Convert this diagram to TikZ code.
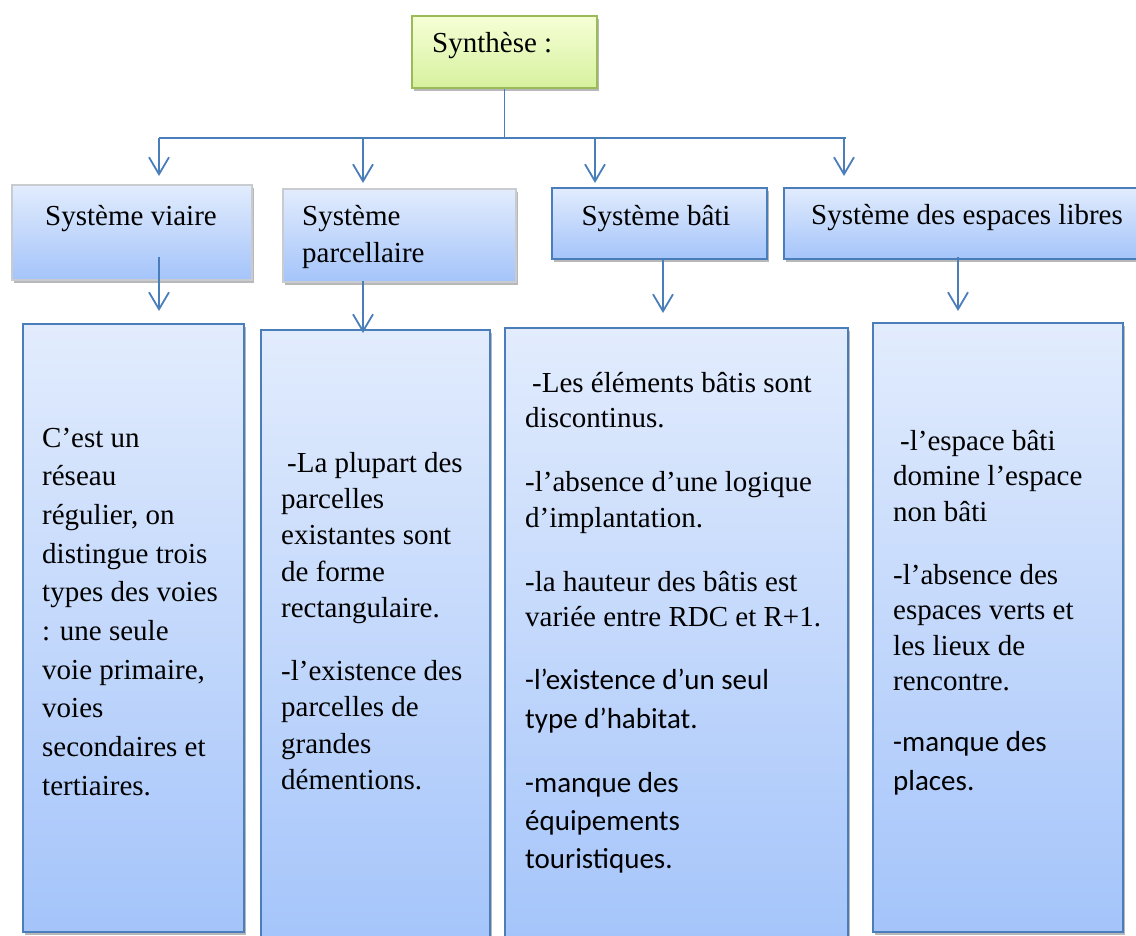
\documentclass[tikz,border=0pt]{standalone}
\usepackage{fontspec}
\setmainfont{Liberation Serif}
\newfontfamily\calibri{Carlito}
\usetikzlibrary{arrows.meta,shadows}
\definecolor{lineblue}{RGB}{74,126,187}
\definecolor{boxtop}{RGB}{226,236,253}
\definecolor{boxbot}{RGB}{164,196,250}
\definecolor{greentop}{RGB}{246,255,214}
\definecolor{greenbot}{RGB}{214,241,158}
\definecolor{greenline}{RGB}{155,187,89}
\definecolor{grayline}{RGB}{200,203,208}
\begin{document}
\begin{tikzpicture}[x=1pt,y=-1pt,
  shad/.style={drop shadow={shadow xshift=2pt,shadow yshift=-3pt,opacity=0.28,fill=black}},
  bluebox/.style={draw=lineblue,line width=1.8pt,top color=boxtop,bottom color=boxbot,
     anchor=north west,inner sep=0pt,shad},
  graybox/.style={bluebox,draw=grayline},
  greenbox/.style={draw=greenline,line width=1.8pt,top color=greentop,bottom color=greenbot,
     anchor=north west,inner sep=0pt,shad},
  txt/.style={inner sep=0pt,anchor=base west,font=\fontsize{29}{38}\selectfont},
  conn/.style={draw=lineblue,line width=1.8pt},
  arr/.style={conn,-{Straight Barb[length=17pt,width=20pt,line width=1.8pt]}}]
\useasboundingbox (0,0) rectangle (1136,936);

% boxes
\node[greenbox,minimum width=185pt,minimum height=72pt] (syn) at (411,15) {};
\node[graybox,minimum width=240pt,minimum height=95pt] (via) at (11,184) {};
\node[graybox,minimum width=233pt,minimum height=93pt] (par) at (282,188) {};
\node[bluebox,minimum width=215pt,minimum height=71pt] (bat) at (551,187) {};
\node[bluebox,minimum width=360pt,minimum height=71pt] (esp) at (783,187) {};

\node[bluebox,minimum width=221pt,minimum height=608pt] (viaB) at (22,323) {};
\node[bluebox,minimum width=229pt,minimum height=620pt] (parB) at (260,329) {};
\node[bluebox,minimum width=343pt,minimum height=620pt] (batB) at (504,327) {};
\node[bluebox,minimum width=250pt,minimum height=609pt] (espB) at (872,322) {};

% titles
\node[txt] (synT) at (432,53) {Synthèse :};
\node[txt,anchor=base] (viaT) at (131,226) {Système viaire};
\node[txt] (parT) at (302,226) {\parbox[t]{220pt}{\fontsize{29}{37}\selectfont Système\\parcellaire}};
\node[txt,anchor=base] (batT) at (656,226) {Système bâti};
\node[txt] (espT) at (811,225) {Système des espaces libres};

% contents
\node[txt] (viaC) at (42,447) {\parbox[t]{360pt}{\lineskiplimit=-100pt\fontsize{29}{38.67}\selectfont
C’est un\\réseau\\régulier, on\\distingue trois\\types des voies\\: une seule\\voie primaire,\\voies\\secondaires et\\tertiaires.}};

\node[txt] (parC) at (281,472) {\parbox[t]{360pt}{\lineskiplimit=-100pt\fontsize{29}{36.4}\selectfont
\hspace*{6pt}-La plupart des\\parcelles\\existantes sont\\de forme\\rectangulaire.\par
\vspace{26.5pt}
-l’existence des\\parcelles de\\grandes\\démentions.}};

\node[txt] (batC) at (525,392) {\parbox[t]{360pt}{\lineskiplimit=-100pt\fontsize{29}{35.5}\selectfont
\hspace*{7pt}-Les éléments bâtis sont\\discontinus.\par
\vspace{28.5pt}
-l’absence d’une logique\\d’implantation.\par
\vspace{28.5pt}
-la hauteur des bâtis est\\variée entre RDC et R+1.\par
\vspace{24.5pt}
\calibri\fontsize{29}{38.5}\selectfont
-l’existence d’un seul\\type d’habitat.\par
\vspace{25.5pt}
-manque des\\équipements\\touristiques.}};

\node[txt] (espC) at (893,450) {\parbox[t]{360pt}{\lineskiplimit=-100pt\fontsize{29}{35.5}\selectfont
\hspace*{7pt}-l’espace bâti\\domine l’espace\\non bâti\par
\vspace{27.5pt}
-l’absence des\\espaces verts et\\les lieux de\\rencontre.\par
\vspace{22pt}
\calibri\fontsize{29}{39}\selectfont
-manque des\\places.}};

% connectors
\coordinate (hub) at (syn.south |- 0,138);
\coordinate (hL) at (159,138);
\coordinate (hR) at (846,138);
\coordinate (h2) at (363,138);
\coordinate (h3) at (595,138);
\coordinate (h4) at (844,138);
\coordinate (d1) at (159,176);
\coordinate (d2) at (363,183);
\coordinate (d3) at (595,183);
\coordinate (d4) at (844,176);
\draw[conn] (syn.south) -- (hub);
\draw[conn] (hL) -- (hR);
\draw[arr] (hL) -- (d1);
\draw[arr] (h2) -- (d2);
\draw[arr] (h3) -- (d3);
\draw[arr] (h4) -- (d4);

\coordinate (s1) at (159,257);
\coordinate (t1) at (159,311);
\coordinate (s2) at (363,281);
\coordinate (t2) at (363,333);
\coordinate (s3) at (663,258);
\coordinate (t3) at (663,313);
\coordinate (s4) at (958,257);
\coordinate (t4) at (958,311);
\draw[arr] (s1) -- (t1);
\draw[arr] (s2) -- (t2);
\draw[arr] (s3) -- (t3);
\draw[arr] (s4) -- (t4);
\end{tikzpicture}
\end{document}
